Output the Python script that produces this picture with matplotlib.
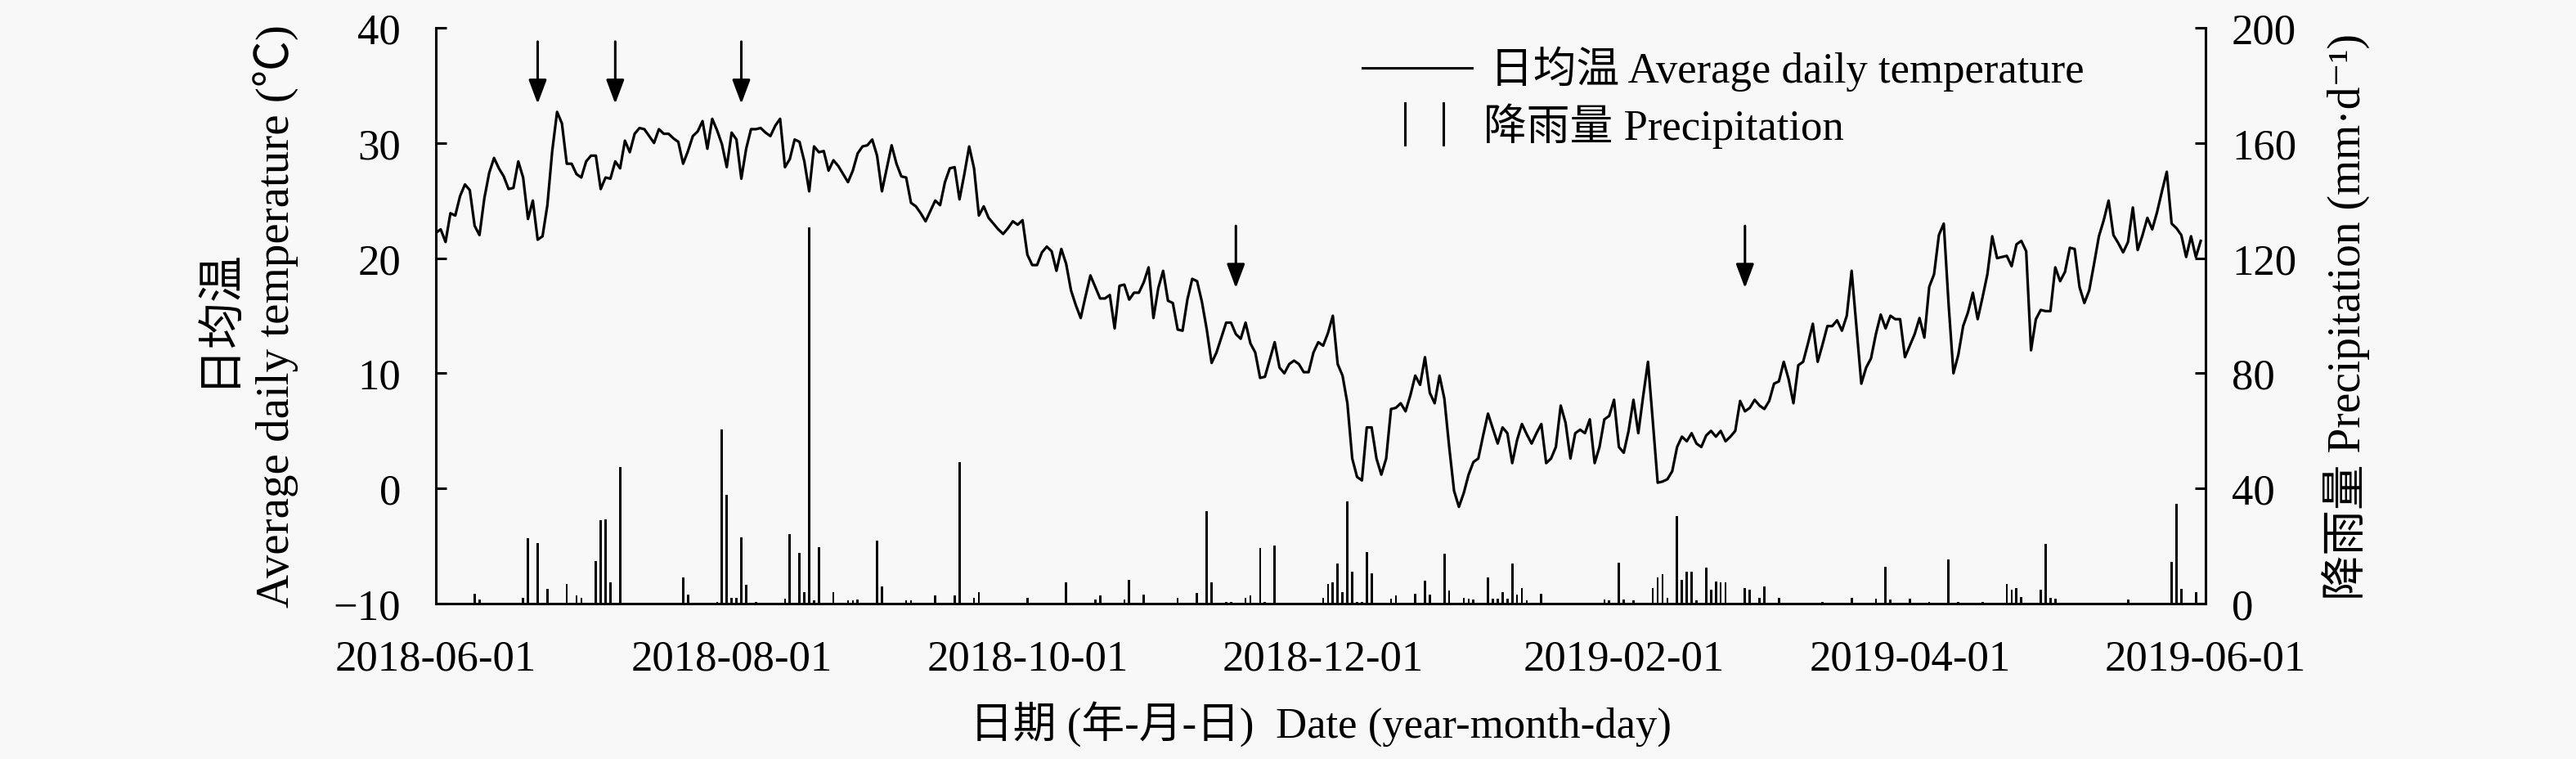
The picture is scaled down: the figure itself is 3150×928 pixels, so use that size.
import matplotlib
matplotlib.use("Agg")
import matplotlib.pyplot as plt
import matplotlib.dates as mdates
import pandas as pd

plt.rcParams['font.family'] = ['Liberation Serif', 'Noto Sans CJK SC', 'DejaVu Sans']

# daily mean air temperature (deg C), one value per day from 2018-06-01
temp = [
    22.2, 22.5, 21.4, 23.9, 23.7, 25.4, 26.4, 25.9, 22.8, 22.0,
    25.2, 27.4, 28.7, 27.8, 27.1, 26.0, 26.1, 28.4, 27.0, 23.4,
    25.0, 21.6, 21.9, 24.6, 29.3, 32.7, 31.7, 28.2, 28.2, 27.3,
    27.0, 28.4, 28.9, 28.9, 26.0, 27.0, 26.9, 28.4, 27.8, 30.2,
    29.2, 30.8, 31.3, 31.2, 30.6, 30.0, 31.2, 30.8, 30.8, 30.4,
    30.1, 28.2, 29.3, 30.6, 31.0, 31.9, 29.5, 32.1, 31.1, 29.9,
    27.9, 30.9, 30.3, 26.9, 29.5, 31.2, 31.2, 31.3, 30.9, 30.6,
    31.5, 32.1, 27.9, 28.6, 30.3, 30.1, 28.4, 25.8, 29.7, 29.2,
    29.3, 27.6, 28.5, 28.0, 27.3, 26.6, 27.6, 29.1, 29.7, 29.8,
    30.3, 28.9, 25.8, 27.8, 29.8, 28.2, 27.1, 27.0, 24.8, 24.5,
    23.9, 23.2, 24.1, 25.0, 24.6, 26.6, 27.8, 27.9, 25.1, 27.3,
    29.7, 27.8, 23.7, 24.5, 23.5, 23.0, 22.5, 22.1, 22.6, 23.2,
    22.9, 23.3, 20.3, 19.4, 19.4, 20.5, 21.0, 20.6, 18.9, 20.8,
    19.5, 17.2, 15.9, 14.8, 16.7, 18.5, 17.5, 16.5, 16.5, 16.8,
    13.9, 17.6, 17.7, 16.4, 17.0, 17.0, 17.9, 19.2, 14.8, 17.4,
    18.9, 16.3, 16.1, 13.8, 13.7, 16.4, 18.2, 18.0, 16.2, 13.8,
    10.9, 11.8, 13.1, 14.4, 14.4, 13.4, 13.0, 14.4, 12.6, 11.8,
    9.6, 9.7, 11.2, 12.7, 10.5, 10.0, 10.8, 11.1, 10.8, 10.1,
    10.1, 11.8, 12.7, 12.4, 13.5, 15.0, 10.8, 9.8, 7.4, 2.6,
    1.0, 0.7, 5.3, 5.3, 2.6, 1.2, 2.6, 6.9, 7.0, 7.4,
    6.7, 8.1, 9.8, 9.0, 11.4, 8.3, 7.4, 9.8, 7.8, 3.6,
    -0.2, -1.6, -0.4, 1.2, 2.3, 2.6, 4.6, 6.5, 5.2, 3.9,
    5.3, 4.8, 2.2, 4.2, 5.6, 4.7, 3.9, 4.8, 5.6, 2.2,
    2.6, 3.6, 7.2, 5.7, 2.6, 4.8, 5.1, 4.8, 6.0, 2.2,
    3.6, 6.0, 6.3, 7.7, 3.6, 3.1, 5.0, 7.7, 4.8, 8.0,
    11.0, 5.8, 0.5, 0.6, 0.8, 1.5, 3.6, 4.5, 4.1, 4.8,
    3.9, 3.6, 4.6, 5.0, 4.5, 5.0, 4.1, 4.5, 5.0, 7.6,
    6.7, 7.0, 7.7, 7.2, 6.9, 7.6, 9.1, 9.3, 11.0, 9.5,
    7.4, 10.7, 11.0, 12.6, 14.3, 11.0, 12.5, 14.1, 14.1, 14.6,
    13.7, 15.0, 18.9, 14.0, 9.1, 10.5, 11.3, 13.4, 15.1, 13.9,
    15.0, 14.7, 14.7, 11.4, 12.4, 13.4, 14.8, 13.1, 17.5, 18.6,
    22.0, 23.0, 16.0, 10.0, 11.6, 14.1, 15.3, 17.0, 14.7, 16.6,
    18.6, 21.9, 20.0, 20.1, 20.2, 19.3, 21.2, 21.5, 20.6, 12.0,
    14.7, 15.5, 15.4, 15.4, 19.2, 18.0, 18.8, 20.9, 20.8, 17.5,
    16.1, 17.2, 19.5, 21.9, 23.3, 25.0, 22.0, 21.3, 20.5, 21.4,
    24.4, 20.7, 22.0, 23.5, 22.5, 24.0, 25.8, 27.5, 23.0, 22.6,
    22.0, 20.1, 21.9, 20.1, 21.5,
]

# rainy days: offset (days after 2018-06-01) and amount (mm/d)
rain_day = [
    8, 9, 18, 19, 21, 23, 27, 29, 30, 33, 34, 35, 36, 38, 51, 52, 58, 59, 60,
    61, 62, 63, 64, 66, 72, 73, 75, 76, 77, 78, 79, 82, 85, 86, 87, 91, 92,
    97, 98, 103, 107, 108, 111, 112, 122, 130, 136, 137, 142, 143, 146, 153,
    157, 159, 160, 163, 164, 167, 168, 170, 171, 173, 183, 184, 185, 186, 187,
    188, 189, 190, 191, 192, 193, 197, 198, 202, 204, 205, 208, 209, 212, 213,
    214, 217, 218, 219, 220, 221, 222, 223, 224, 225, 228, 241, 242, 244, 245,
    247, 251, 252, 253, 254, 256, 257, 258, 259, 260, 262, 263, 264, 265, 266,
    270, 271, 273, 274, 277, 286, 292, 297, 299, 300, 304, 308, 312, 314, 319,
    324, 325, 326, 327, 331, 332, 333, 334, 349, 358, 359, 360, 363,
]
rain_mm = [
    3.4, 1.4, 2.0, 22.7, 20.9, 5.1, 6.9, 2.8, 2.0, 14.7, 28.9, 29.3, 7.3, 47.5, 9.2, 3.2, 0.7, 60.6, 37.9,
    2.0, 2.0, 23.1, 6.5, 0.7, 1.8, 24.1, 17.5, 4.0, 130.8, 1.0, 19.7, 4.0, 1.0, 1.0, 1.4, 22.0, 5.9,
    1.0, 1.0, 2.8, 2.8, 49.2, 2.0, 4.1, 2.0, 7.3, 1.4, 2.8, 1.4, 8.3, 3.2, 2.0,
    3.7, 32.1, 7.3, 0.7, 0.7, 2.0, 2.8, 19.3, 0.7, 20.2, 2.0, 6.9, 7.3, 13.8, 3.9,
    35.4, 11.0, 0.7, 0.7, 17.9, 10.6, 1.8, 2.8, 3.4, 7.9, 3.1, 17.2, 4.5, 2.0, 1.8,
    1.4, 9.2, 1.8, 1.8, 3.9, 1.8, 13.8, 3.0, 5.4, 1.0, 3.4, 1.4, 1.0, 14.2, 1.4,
    1.0, 5.5, 9.2, 10.3, 2.0, 30.3, 8.3, 11.0, 11.0, 1.0, 12.4, 4.8, 7.6, 7.3, 7.3,
    5.5, 4.8, 2.0, 5.9, 2.0, 0.7, 2.0, 1.8, 12.8, 1.4, 1.8, 0.7, 15.4, 0.7, 0.7,
    6.9, 4.8, 5.5, 2.3, 4.8, 20.7, 2.0, 1.8, 1.4, 14.5, 34.8, 5.1, 3.9,
]

# sampling dates marked with arrows
arrow_dates = ['2018-06-22', '2018-07-08', '2018-08-03', '2018-11-13', '2019-02-26']
arrow_top = [38.8, 38.8, 38.8, 22.8, 22.8]
arrow_tip = [33.4, 33.4, 33.4, 17.4, 17.4]

tick_dates = ['2018-06-01', '2018-08-01', '2018-10-01', '2018-12-01',
              '2019-02-01', '2019-04-01', '2019-06-01']

start = pd.Timestamp('2018-06-01')
dates = pd.date_range(start, periods=len(temp), freq='D')
rain_dates = start + pd.to_timedelta(rain_day, unit='D')

fs = 38
bg = '#f8f8f8'

fig = plt.figure(figsize=(31.5, 9.29), dpi=100, facecolor=bg)
ax = fig.add_axes([0.1692, 0.2045, 0.6870, 0.7578])
ax.set_facecolor(bg)
ax2 = ax.twinx()

ax2.bar(rain_dates, rain_mm, width=0.45, color='black', linewidth=0)
ax.plot(dates, temp, color='black', lw=2.3)

for d, y0, y1 in zip(arrow_dates, arrow_top, arrow_tip):
    ax.annotate('', xy=(pd.Timestamp(d), y1), xytext=(pd.Timestamp(d), y0),
                arrowprops=dict(arrowstyle='-|>,head_length=0.4,head_width=0.15',
                                mutation_scale=45, lw=2.2, color='black',
                                shrinkA=0, shrinkB=0))

ax.set_xlim(start, pd.Timestamp('2019-06-01'))
ax.set_ylim(-10, 40)
ax.set_yticks(range(-10, 41, 10))
ax2.set_ylim(0, 200)
ax2.set_yticks(range(0, 201, 40))
ax.set_xticks(pd.to_datetime(tick_dates))
ax.xaxis.set_major_formatter(mdates.DateFormatter('%Y-%m-%d'))

for a in (ax, ax2):
    a.spines['top'].set_visible(False)
    for s in a.spines.values():
        s.set_linewidth(2.2)
ax2.spines['left'].set_visible(False)
ax2.spines['bottom'].set_visible(False)
ax.spines['right'].set_visible(False)

ax.tick_params(axis='y', direction='in', length=9.5, width=2.2, labelsize=fs, pad=31)
ax.tick_params(axis='x', direction='in', length=0, labelsize=fs, pad=31)
ax2.tick_params(axis='y', direction='in', length=9.5, width=2.2, labelsize=fs, pad=23)

ax.set_ylabel('日均温\nAverage daily temperature (℃)', fontsize=41,
              linespacing=1.4, multialignment='center')
ax.yaxis.set_label_coords(-0.077, 0.5)
ax2.set_ylabel('降雨量 Precipitation (mm·d⁻¹)', fontsize=40)
ax2.yaxis.set_label_coords(1.066, 0.5)
ax.set_xlabel('日期 (年-月-日)  Date (year-month-day)', fontsize=fs)
ax.xaxis.set_label_coords(0.5, -0.168)

# legend drawn by hand in axes fraction
ax.plot([0.5236, 0.5855], [0.9304, 0.9304], transform=ax.transAxes,
        color='black', lw=2.2, clip_on=False)
for xb in (0.5476, 0.5693):
    ax.plot([xb, xb], [0.7969, 0.8693], transform=ax.transAxes,
            color='black', lw=2.2, clip_on=False)
ax.text(0.5957, 0.9304, '日均温 Average daily temperature', transform=ax.transAxes,
        fontsize=fs, va='center', ha='left')
ax.text(0.5920, 0.8300, '降雨量 Precipitation', transform=ax.transAxes,
        fontsize=fs, va='center', ha='left')

fig.savefig('out.png', dpi=100, facecolor=bg)
